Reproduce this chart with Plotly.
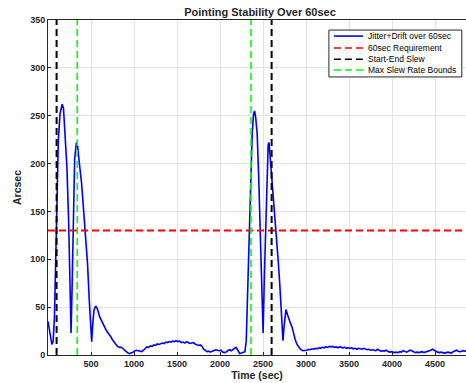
import plotly.graph_objects as go

time_s = [0, 20, 45, 60, 75, 90, 105, 120, 140, 165, 180, 200, 220, 240, 255, 268, 280, 295, 310, 330,
          345, 365, 390, 415, 440, 460, 480, 495, 508, 520, 535, 555, 575, 600, 625, 650, 670, 690, 710, 730,
          750, 770, 790, 810, 830, 850, 870, 890, 910, 930, 950, 970, 990, 1010, 1030, 1050, 1070, 1090, 1110, 1130,
          1150, 1170, 1190, 1210, 1230, 1250, 1270, 1290, 1310, 1330, 1350, 1370, 1390, 1410, 1430, 1450, 1470, 1490, 1510, 1530,
          1550, 1570, 1590, 1610, 1630, 1650, 1670, 1690, 1710, 1730, 1750, 1770, 1790, 1810, 1830, 1850, 1870, 1890, 1910, 1930,
          1950, 1970, 1990, 2010, 2030, 2050, 2070, 2090, 2110, 2130, 2150, 2170, 2185, 2200, 2215, 2230, 2250, 2270, 2290, 2305,
          2317, 2330, 2344, 2360, 2374, 2390, 2402, 2415, 2432, 2450, 2470, 2488, 2501, 2515, 2528, 2545, 2560, 2570, 2585, 2605,
          2630, 2651, 2675, 2694, 2715, 2732, 2745, 2755, 2767, 2785, 2800, 2820, 2836, 2855, 2875, 2895, 2913, 2935, 2960, 2990,
          3010, 3030, 3050, 3070, 3090, 3110, 3130, 3150, 3170, 3190, 3210, 3230, 3250, 3270, 3290, 3310, 3330, 3350, 3370, 3390,
          3410, 3430, 3450, 3470, 3490, 3510, 3530, 3550, 3570, 3590, 3610, 3630, 3650, 3670, 3690, 3710, 3730, 3750, 3770, 3790,
          3810, 3830, 3850, 3870, 3890, 3910, 3930, 3950, 3970, 3990, 4010, 4030, 4050, 4070, 4090, 4110, 4130, 4150, 4170, 4190,
          4210, 4230, 4250, 4270, 4290, 4310, 4330, 4350, 4370, 4390, 4410, 4430, 4450, 4470, 4490, 4510, 4530, 4550, 4570, 4590,
          4610, 4630, 4650, 4670, 4690, 4710, 4730, 4750, 4770, 4790, 4810, 4830, 4850, 4870]
arcsec = [35, 25, 11, 14, 40, 100, 170, 225, 252, 262, 258, 230, 196, 140, 70, 23, 70, 160, 205, 222,
          218, 200, 180, 150, 120, 95, 57, 30, 14, 32, 47, 51, 48, 40, 35, 30, 27, 24, 22, 19,
          16, 13, 11, 9, 8, 8, 7, 5, 3, 2, 1.5, 2, 3, 4.5, 5, 4.5, 4, 3.5, 5, 7,
          8.5, 8, 9.5, 9, 10.5, 10, 11.5, 11, 12, 12.5, 12, 13.5, 13, 14, 13.5, 14.5, 14, 15, 14, 14.5,
          13, 13.5, 12.5, 14, 13, 12, 12.5, 13, 11.5, 11, 10, 10.5, 9, 6, 4.5, 3.5, 4, 3, 4, 5,
          5.5, 5, 4.5, 5, 3, 2.5, 3, 4.5, 5.5, 4.5, 6, 7, 8, 6, 3, 1.5, 2, 2.5, 3.5, 15,
          57, 100, 130, 185, 231, 252, 255, 248, 231, 185, 127, 65, 23, 80, 127, 190, 220, 222, 205, 186,
          160, 130, 100, 75, 40, 15, 30, 42, 47.5, 42, 37, 33, 29.6, 22, 16, 11, 8.7, 6, 4.5, 4.5,
          5, 6, 5.5, 6.5, 6, 7, 6.5, 7.5, 7, 8, 7.5, 8.5, 8, 9, 8.5, 9, 8, 8.5, 7.5, 8.5,
          8, 7.5, 8, 7, 7.5, 7, 7.5, 6.5, 7, 6, 7, 6.5, 6, 7, 6, 5.5, 6, 5, 5.5, 5,
          4.5, 6, 5, 4, 4.5, 4, 5, 3.5, 3, 3.5, 3, 2.5, 3, 2.5, 3.5, 3, 4.5, 4, 3, 4,
          5, 4.5, 3, 2.5, 3, 2.5, 3, 3.5, 2.5, 3, 3.5, 4, 5, 6, 5, 3.5, 3, 2.5, 3, 2.5,
          2, 2.5, 3, 2.5, 2, 3.5, 4.5, 5, 4, 3.5, 4, 4.5, 4, 4.5]

requirement = 130
slew_start_end = [100, 2600]
max_rate_bounds = [340, 2360]
x_ticks = [500, 1000, 1500, 2000, 2500, 3000, 3500, 4000, 4500]
y_ticks = [0, 50, 100, 150, 200, 250, 300, 350]
x_range = [0, 4860]
y_range = [0, 350]

series_names = ["Jitter+Drift over 60sec", "60sec Requirement", "Start-End Slew", "Max Slew Rate Bounds"]
series_colors = ["#0000ff", "#ff0000", "#000000", "#00ff00"]
series_widths = [1.6, 2, 2, 1.6]
series_dash = ["solid", "7px,4px", "7px,4px", "7px,4px"]


def vlines(xs):
    xx, yy = [], []
    for v in xs:
        xx += [v, v, None]
        yy += [y_range[0], y_range[1], None]
    return xx, yy


def line_style(i):
    return dict(color=series_colors[i], width=series_widths[i], dash=series_dash[i])


fig = go.Figure()
fig.add_trace(go.Scatter(x=time_s, y=arcsec, mode="lines", name=series_names[0], line=line_style(0)))
fig.add_trace(go.Scatter(x=x_range, y=[requirement, requirement], mode="lines", name=series_names[1],
                         line=line_style(1)))
bx, by = vlines(slew_start_end)
fig.add_trace(go.Scatter(x=bx, y=by, mode="lines", name=series_names[2], line=line_style(2)))
gx, gy = vlines(max_rate_bounds)
fig.add_trace(go.Scatter(x=gx, y=gy, mode="lines", name=series_names[3], line=line_style(3)))

# compact legend box (MATLAB style), drawn in paper coordinates
leg_x0, leg_x1, leg_y0, leg_y1 = 0.672, 0.990, 0.830, 0.970
row_y = [0.952, 0.9164, 0.8827, 0.8507]
sample_x0, sample_x1, text_x = 0.684, 0.7536, 0.7608
shapes = [dict(type="rect", xref="paper", yref="paper", x0=leg_x0, x1=leg_x1, y0=leg_y0, y1=leg_y1,
               line=dict(color="#262626", width=1), fillcolor="white", layer="above")]
annotations = []
for i, name in enumerate(series_names):
    shapes.append(dict(type="line", xref="paper", yref="paper", x0=sample_x0, x1=sample_x1,
                       y0=row_y[i], y1=row_y[i], line=dict(color=series_colors[i], width=1.6,
                                                             dash=series_dash[i]), layer="above"))
    annotations.append(dict(xref="paper", yref="paper", x=text_x, y=row_y[i], xanchor="left",
                            yanchor="middle", text=name, showarrow=False,
                            font=dict(size=8.5, color="#000000")))

tick_font = dict(family="Liberation Sans, Arial, sans-serif", size=9, color="#262626")
fig.update_layout(
    width=466, height=383,
    margin=dict(l=48, r=0, t=20, b=28),
    paper_bgcolor="white", plot_bgcolor="white",
    font=dict(family="Liberation Sans, Arial, sans-serif", color="#262626"),
    title=dict(text="<b>Pointing Stability Over 60sec</b>", x=0.558, xanchor="center",
               y=0.968, yanchor="middle", font=dict(size=11, color="#262626")),
    showlegend=False,
    hovermode=False,
    shapes=shapes,
    annotations=annotations,
    xaxis=dict(range=x_range, tickvals=x_ticks, ticktext=[f"<b>{v}</b>" for v in x_ticks],
               showgrid=True, gridcolor="#e3e3e3", gridwidth=1, zeroline=False,
               showline=True, linecolor="#262626", linewidth=1, mirror=True,
               ticks="inside", ticklen=3, tickcolor="#262626", tickfont=tick_font,
               title=dict(text="<b>Time (sec)</b>", font=dict(size=10.5, color="#262626"), standoff=3)),
    yaxis=dict(range=y_range, tickvals=y_ticks, ticktext=[f"<b>{v}</b>" for v in y_ticks],
               showgrid=True, gridcolor="#e3e3e3", gridwidth=1, zeroline=False,
               showline=True, linecolor="#262626", linewidth=1,
               ticks="inside", ticklen=3, tickcolor="#262626", tickfont=tick_font,
               title=dict(text="<b>Arcsec</b>", font=dict(size=10.5, color="#262626"), standoff=6)),
)

fig.write_html("out.html", config={"displayModeBar": False, "staticPlot": True},
               post_script="document.body.style.margin='0px';document.body.style.overflow='hidden';")
